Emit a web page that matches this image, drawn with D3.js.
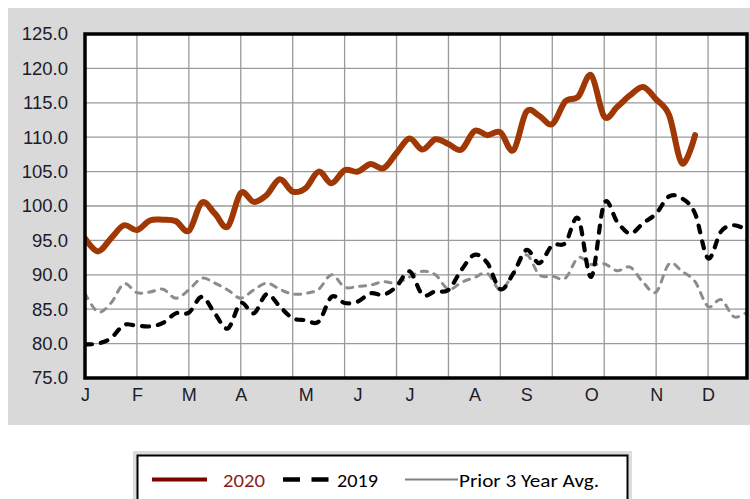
<!DOCTYPE html>
<html>
<head>
<meta charset="utf-8">
<script src="https://cdn.jsdelivr.net/npm/d3@7"></script>
<style>
  html, body { margin: 0; padding: 0; background: #ffffff; }
  svg { display: block; }
</style>
</head>
<body>
<svg id="chart" width="750" height="499"></svg>
<script>
// ---- data ----
const months = ["J","F","M","A","M","J","J","A","S","O","N","D"];
const monthWeek = [0,4,8,12,17,21,25,30,34,39,44,48];
const yTicks = [75,80,85,90,95,100,105,110,115,120,125];
const gridWeeks = [0,4,8,12,16,20,24,28,32,36,40,44,48];

const s2020 = [95.3,93.4,95.3,97.2,96.5,97.9,98.0,97.8,96.4,100.5,
               98.9,97.0,101.9,100.6,101.6,103.9,102.1,102.6,105.0,103.3,
               105.2,105.0,106.1,105.5,107.7,109.8,108.2,109.7,109.0,108.2,
               110.9,110.3,110.7,108.1,113.7,113.1,111.9,115.2,115.9,119.0,
               113.0,114.4,116.1,117.3,115.5,113.2,106.2,110.3];
const s2019 = [79.9,80.0,80.8,82.7,82.6,82.5,83.0,84.4,84.5,86.8,
               84.4,82.2,85.9,84.4,87.2,85.4,83.7,83.4,83.2,86.8,
               85.9,86.1,87.3,87.1,88.3,90.5,87.1,87.6,87.8,90.7,
               92.9,91.7,87.9,90.2,93.6,91.7,94.3,94.6,98.2,89.7,
               100.4,97.7,96.0,97.5,98.9,101.4,101.1,98.9,92.4,96.3,
               97.2,96.5];
const sAvg = [87.3,84.6,85.9,88.7,87.4,87.5,87.9,86.6,87.8,89.5,
              88.8,87.8,86.6,87.8,88.8,87.9,87.2,87.3,87.9,90.0,
              88.2,88.3,88.5,89.0,88.8,89.7,90.5,90.0,87.9,88.9,
              89.6,90.2,87.8,90.2,92.9,90.0,89.8,89.5,92.5,91.5,
              91.6,90.6,91.1,88.9,87.5,91.6,90.5,89.0,85.4,86.4,
              83.9,84.6];
const legendLabels = ["2020","2019","Prior 3 Year Avg."];

// ---- layout ----
const svg = d3.select("#chart");
const L = 85, R = 747, T = 34, B = 378;

svg.append("rect").attr("x", 8).attr("y", 8).attr("width", 742).attr("height", 417)
   .attr("fill", "#d9d9d9");

const x = d3.scaleLinear().domain([0, 51]).range([L, R]);
const y = d3.scaleLinear().domain([75, 125]).range([B, T]);

svg.append("rect").attr("x", L).attr("y", T).attr("width", R - L).attr("height", B - T)
   .attr("fill", "#ffffff");

// gridlines
const grid = svg.append("g");
grid.selectAll("line.h").data(yTicks).join("line")
  .attr("x1", L).attr("x2", R).attr("y1", d => y(d)).attr("y2", d => y(d))
  .attr("stroke", "#9a9a9a").attr("stroke-width", 1.3);
grid.selectAll("line.v").data(gridWeeks).join("line")
  .attr("y1", T).attr("y2", B).attr("x1", d => x(d)).attr("x2", d => x(d))
  .attr("stroke", "#9a9a9a").attr("stroke-width", 1.3);

// axes (labels only)
const yAxis = d3.axisLeft(y).tickValues(yTicks).tickFormat(d3.format(".1f")).tickSize(0).tickPadding(17);
const gy = svg.append("g").attr("transform", `translate(${L},0)`).call(yAxis);
gy.select(".domain").remove();
gy.selectAll("text").attr("font-family", "Liberation Sans, Arial, sans-serif")
  .attr("font-size", 18.5).attr("fill", "#1c1c2c");

const xAxis = d3.axisBottom(x).tickValues(monthWeek).tickFormat((d, i) => months[i]).tickSize(0).tickPadding(10);
const gx = svg.append("g").attr("transform", `translate(0,${B})`).call(xAxis);
gx.select(".domain").remove();
gx.selectAll("text").attr("font-family", "Liberation Sans, Arial, sans-serif")
  .attr("font-size", 18).attr("fill", "#1c1c2c");

// lines
const line = d3.line().x((d, i) => x(i)).y(d => y(d)).curve(d3.curveCardinal.tension(0));

svg.append("clipPath").attr("id", "clip").append("rect")
   .attr("x", L).attr("y", T).attr("width", R - L).attr("height", B - T);
const lines = svg.append("g").attr("clip-path", "url(#clip)");

lines.append("path").datum(sAvg).attr("d", line)
  .attr("fill", "none").attr("stroke", "#8c8c8c").attr("stroke-width", 3)
  .attr("stroke-dasharray", "6,7").attr("stroke-linecap", "round");
lines.append("path").datum(s2019).attr("d", line)
  .attr("fill", "none").attr("stroke", "#000000").attr("stroke-width", 4.2)
  .attr("stroke-dasharray", "7,9").attr("stroke-linecap", "round");
lines.append("path").datum(s2020).attr("d", line)
  .attr("fill", "none").attr("stroke", "#a03805").attr("stroke-width", 6)
  .attr("stroke-linejoin", "round").attr("stroke-linecap", "round");

// plot border
svg.append("rect").attr("x", L).attr("y", T).attr("width", R - L).attr("height", B - T)
   .attr("fill", "none").attr("stroke", "#000").attr("stroke-width", 3.5);

// legend
const lg = svg.append("g");
lg.append("rect").attr("x", 133).attr("y", 451).attr("width", 499).attr("height", 60)
  .attr("fill", "#dcdcdc");
lg.append("rect").attr("x", 137.5).attr("y", 455.5).attr("width", 490).attr("height", 60)
  .attr("fill", "#ffffff").attr("stroke", "#000").attr("stroke-width", 2);

const ly = 479.5;
lg.append("line").attr("x1", 152).attr("x2", 207).attr("y1", ly).attr("y2", ly)
  .attr("stroke", "#800000").attr("stroke-width", 4);
lg.append("line").attr("x1", 283).attr("x2", 329).attr("y1", ly).attr("y2", ly)
  .attr("stroke", "#000").attr("stroke-width", 4.5).attr("stroke-dasharray", "17,11.5");
lg.append("line").attr("x1", 405).attr("x2", 458).attr("y1", ly).attr("y2", ly)
  .attr("stroke", "#808080").attr("stroke-width", 2);

const legText = [
  {t: legendLabels[0], x: 223, w: 42, c: "#8e1b1b"},
  {t: legendLabels[1], x: 337, w: 41, c: "#000000"},
  {t: legendLabels[2], x: 459, w: 140, c: "#000000"}
];
lg.selectAll("text").data(legText).join("text")
  .attr("x", d => d.x).attr("y", 486.5)
  .attr("font-family", "Carlito, Calibri, Lato, sans-serif").attr("font-size", 19)
  .attr("fill", d => d.c)
  .attr("textLength", d => d.w).attr("lengthAdjust", "spacingAndGlyphs")
  .text(d => d.t);
</script>
</body>
</html>
